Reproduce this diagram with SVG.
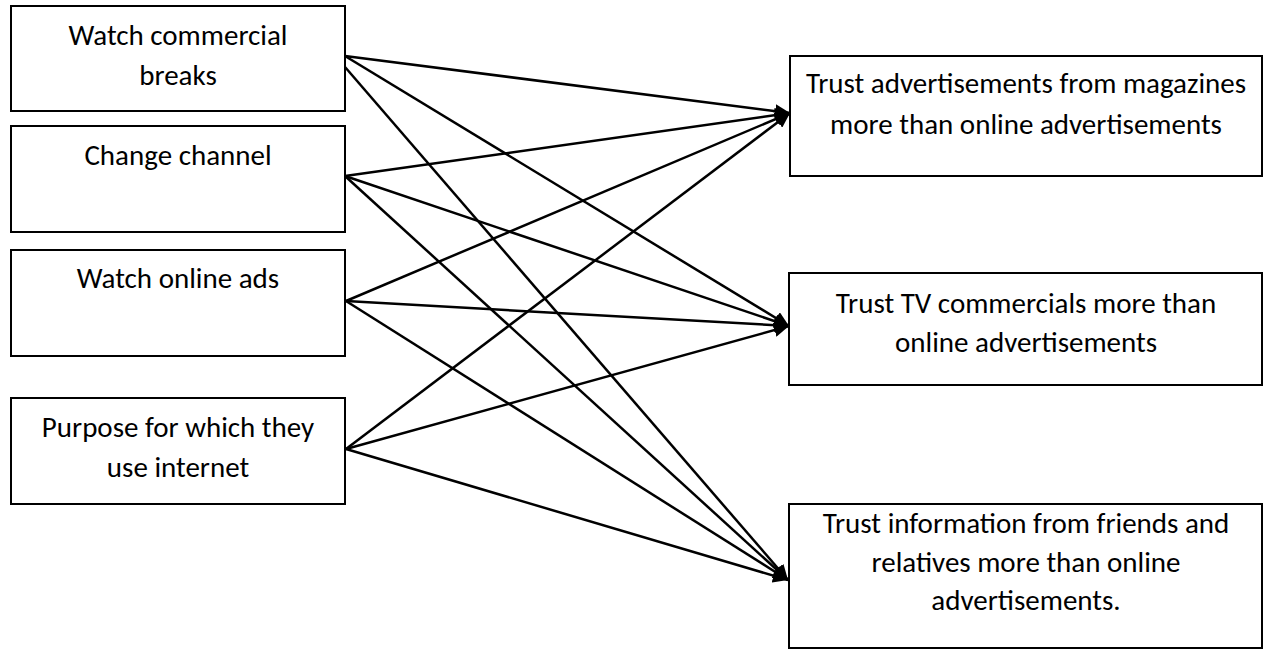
<svg xmlns="http://www.w3.org/2000/svg" width="1281" height="650" viewBox="0 0 1281 650">
<style>
.box{fill:#fff;stroke:#000;stroke-width:2}
.t{font-family:Carlito,Lato,"Liberation Sans",sans-serif;font-size:29px;fill:#000;text-anchor:middle}
.c{stroke:#000;stroke-width:2.5;fill:none;marker-end:url(#ah)}
</style>
<defs>
<marker id="ah" markerUnits="userSpaceOnUse" markerWidth="16" markerHeight="14" refX="15" refY="7" orient="auto">
<path d="M0,0 L15,7 L0,14 Z" fill="#000"/>
</marker>
</defs>
<rect width="1281" height="650" fill="#fff"/>
<g id="n1"><rect class="box" x="11" y="6" width="334" height="105"/><text class="t" x="178" y="45">Watch commercial</text><text class="t" x="178" y="85">breaks</text></g>
<g id="n2"><rect class="box" x="11" y="126" width="334" height="106"/><text class="t" x="178" y="165">Change channel</text></g>
<g id="n3"><rect class="box" x="11" y="250" width="334" height="106"/><text class="t" x="178" y="288">Watch online ads</text></g>
<g id="n4"><rect class="box" x="11" y="398" width="334" height="106"/><text class="t" x="178" y="437">Purpose for which they</text><text class="t" x="178" y="477">use internet</text></g>
<g id="nA"><rect class="box" x="790" y="56" width="472" height="120"/><text class="t" x="1026" y="93">Trust advertisements from magazines</text><text class="t" x="1026" y="134">more than online advertisements</text></g>
<g id="nB"><rect class="box" x="789" y="273" width="473" height="112"/><text class="t" x="1026" y="313">Trust TV commercials more than</text><text class="t" x="1026" y="352">online advertisements</text></g>
<g id="nC"><rect class="box" x="789" y="504" width="473" height="144"/><text class="t" x="1026" y="533">Trust information from friends and</text><text class="t" x="1026" y="572">relatives more than online</text><text class="t" x="1026" y="610">advertisements.</text></g>
<g id="connectors">
<line class="c" x1="345" y1="56" x2="790" y2="113"/>
<line class="c" x1="345" y1="56" x2="789" y2="326"/>
<line class="c" x1="345" y1="67" x2="788" y2="580"/>
<line class="c" x1="345" y1="176" x2="790" y2="113"/>
<line class="c" x1="345" y1="176" x2="789" y2="326"/>
<line class="c" x1="345" y1="176" x2="788" y2="580"/>
<line class="c" x1="346" y1="301" x2="790" y2="113"/>
<line class="c" x1="346" y1="301" x2="789" y2="326"/>
<line class="c" x1="346" y1="301" x2="788" y2="580"/>
<line class="c" x1="346" y1="449" x2="790" y2="113"/>
<line class="c" x1="346" y1="449" x2="789" y2="326"/>
<line class="c" x1="346" y1="449" x2="788" y2="580"/>
</g>
</svg>
